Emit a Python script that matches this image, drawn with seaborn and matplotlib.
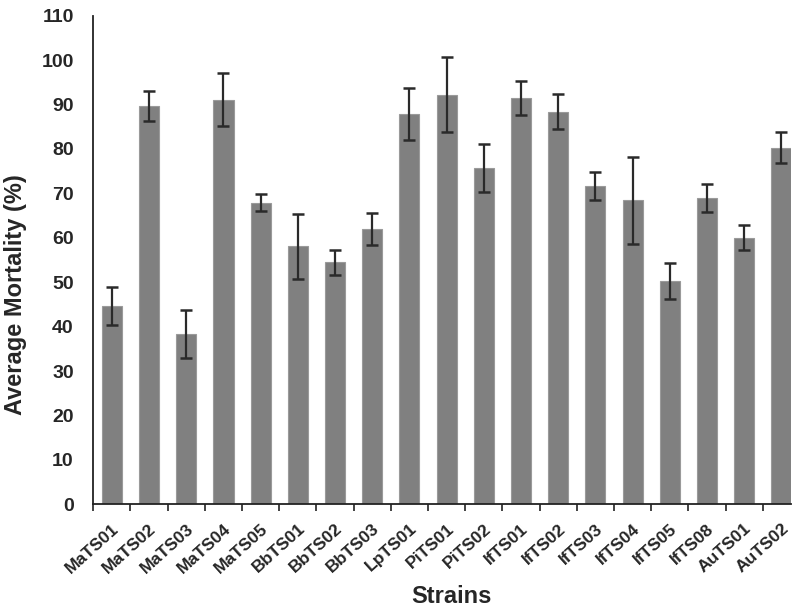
import matplotlib
matplotlib.use("Agg")
import matplotlib.pyplot as plt
import seaborn as sns
import numpy as np
import pandas as pd

strains = ["MaTS01", "MaTS02", "MaTS03", "MaTS04", "MaTS05", "BbTS01", "BbTS02",
           "BbTS03", "LpTS01", "PiTS01", "PiTS02", "IfTS01", "IfTS02", "IfTS03",
           "IfTS04", "IfTS05", "IfTS08", "AuTS01", "AuTS02"]
mortality = [44.6, 89.6, 38.3, 91.1, 67.9, 58.1, 54.5, 61.9, 87.9, 92.2, 75.7,
             91.5, 88.4, 71.7, 68.4, 50.3, 69.0, 60.0, 80.3]
errors = [4.3, 3.4, 5.4, 6.0, 1.9, 7.3, 2.8, 3.6, 5.9, 8.4, 5.4,
          3.8, 3.9, 3.1, 9.7, 4.1, 3.2, 2.8, 3.5]
y_ticks = [0, 10, 20, 30, 40, 50, 60, 70, 80, 90, 100, 110]

df = pd.DataFrame({"Strain": strains, "Mortality": mortality, "Err": errors})

sns.set_style("white")
plt.rcParams["font.family"] = ["Liberation Sans", "DejaVu Sans"]
plt.rcParams["font.weight"] = "bold"

fig = plt.figure(figsize=(7.97, 6.11), dpi=100)
ax = fig.add_axes([93.3 / 797, 1 - 504.3 / 611, 697.3 / 797, 488.6 / 611])

sns.barplot(data=df, x="Strain", y="Mortality", color="#808080", width=0.54,
            errorbar=None, edgecolor="#9a9a9a", linewidth=0.8, saturation=1, ax=ax)
ax.errorbar(np.arange(len(strains)), df["Mortality"], yerr=df["Err"], fmt="none",
            ecolor="#2a2a2a", elinewidth=1.6, capsize=4.2, capthick=1.8)

ax.set_xlim(-0.5, len(strains) - 0.75)
ax.set_ylim(0, 110)
ax.set_yticks(y_ticks)
ax.set_yticklabels([str(t) for t in y_ticks], fontsize=14, fontweight="bold")
ax.tick_params(axis="y", length=0, pad=14)

ax.set_xticks(np.arange(len(strains)))
ax.set_xticklabels(strains, rotation=42, ha="right", rotation_mode="anchor",
                   fontsize=12.5, fontweight="bold")
ax.set_xticks(np.arange(len(strains)) - 0.5, minor=True)
ax.tick_params(axis="x", which="major", length=0, pad=12)
ax.tick_params(axis="x", which="minor", length=5, width=1.2, direction="out",
               color="#222222", bottom=True)

for s in ["top", "right"]:
    ax.spines[s].set_visible(False)
for s in ["left", "bottom"]:
    ax.spines[s].set_color("#222222")
    ax.spines[s].set_linewidth(1.3)

ax.set_xlabel("Strains", fontsize=17, fontweight="bold")
ax.set_ylabel("Average Mortality (%)", fontsize=17, fontweight="bold")
ax.xaxis.set_label_coords((451 - 93.3) / 697.3, -(585 - 504.3) / 488.6)
ax.yaxis.set_label_coords(-(93.3 - 27) / 697.3, (504.3 - 295) / 488.6)

fig.savefig("out.png", dpi=100)
